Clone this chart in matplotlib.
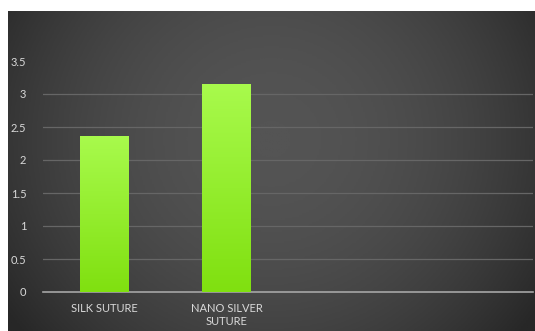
import numpy as np
import matplotlib
matplotlib.use("Agg")
from matplotlib import pyplot as plt
from matplotlib.colors import LinearSegmentedColormap

# data
categories = ["SILK SUTURE", "NANO SILVER\nSUTURE", "", ""]
values = [2.36, 3.15]
yticks = [0, 0.5, 1, 1.5, 2, 2.5, 3, 3.5]
ytick_labels = ["0", "0.5", "1", "1.5", "2", "2.5", "3", "3.5"]

W, H = 535, 331
fig = plt.figure(figsize=(W / 100, H / 100), dpi=100)
fig.patch.set_facecolor("white")

# dark background panel with a soft gradient, lighter in the middle
bg = fig.add_axes([8 / W, 0, 1 - 8 / W, 1 - 11 / H])
bg.set_axis_off()
xx = np.linspace(-1, 1, 300)
yy = np.linspace(-1, 1, 200)
X, Y = np.meshgrid(xx, yy)
shade = 1 - 0.5 * X ** 2 - 0.2 * (Y + 0.2) ** 2
bg_cmap = LinearSegmentedColormap.from_list("bg", ["#272727", "#545454"])
bg.imshow(shade, cmap=bg_cmap, aspect="auto", extent=[0, 1, 0, 1], vmin=0.25, vmax=1)
bg.set_xlim(0, 1)
bg.set_ylim(0, 1)

# plot area in pixels: x 43..533, y 61 (3.5) .. 292 (0)
ax = fig.add_axes([43 / W, (H - 292) / H, (533 - 43) / W, (292 - 61) / H])
ax.patch.set_alpha(0)
x = np.arange(len(categories))
bars = ax.bar(x[:len(values)], values, width=0.4, color="#8ef01e", zorder=3)

bar_cmap = LinearSegmentedColormap.from_list("bar", ["#80e010", "#a8fa4c"])
grad = np.linspace(0, 1, 100).reshape(-1, 1)
for b in bars:
    x0, y0 = b.get_x(), b.get_y()
    ext = [x0, x0 + b.get_width(), y0, y0 + b.get_height()]
    im = ax.imshow(grad, cmap=bar_cmap, aspect="auto", extent=ext, origin="lower", zorder=4)
    im.set_clip_path(b)

ax.set_xlim(-0.5, len(categories) - 0.5)
ax.set_ylim(0, 3.5)
ax.set_yticks(yticks)
ax.set_yticklabels(ytick_labels)
ax.set_xticks(x)
ax.set_xticklabels(categories)
for yv in yticks[1:-1]:
    ax.axhline(yv, color="#666666", lw=0.9, zorder=1)
for s in ["top", "right", "left"]:
    ax.spines[s].set_visible(False)
ax.spines["bottom"].set_color("#a6a6a6")
ax.spines["bottom"].set_linewidth(1.2)
ax.tick_params(length=0, colors="#d9d9d9", labelsize=8)
ax.tick_params(axis="y", pad=12)
ax.tick_params(axis="x", pad=8)
for t in ax.get_xticklabels() + ax.get_yticklabels():
    t.set_fontfamily("Lato")
    t.set_linespacing(1.25)

fig.savefig("out.png", dpi=100)
